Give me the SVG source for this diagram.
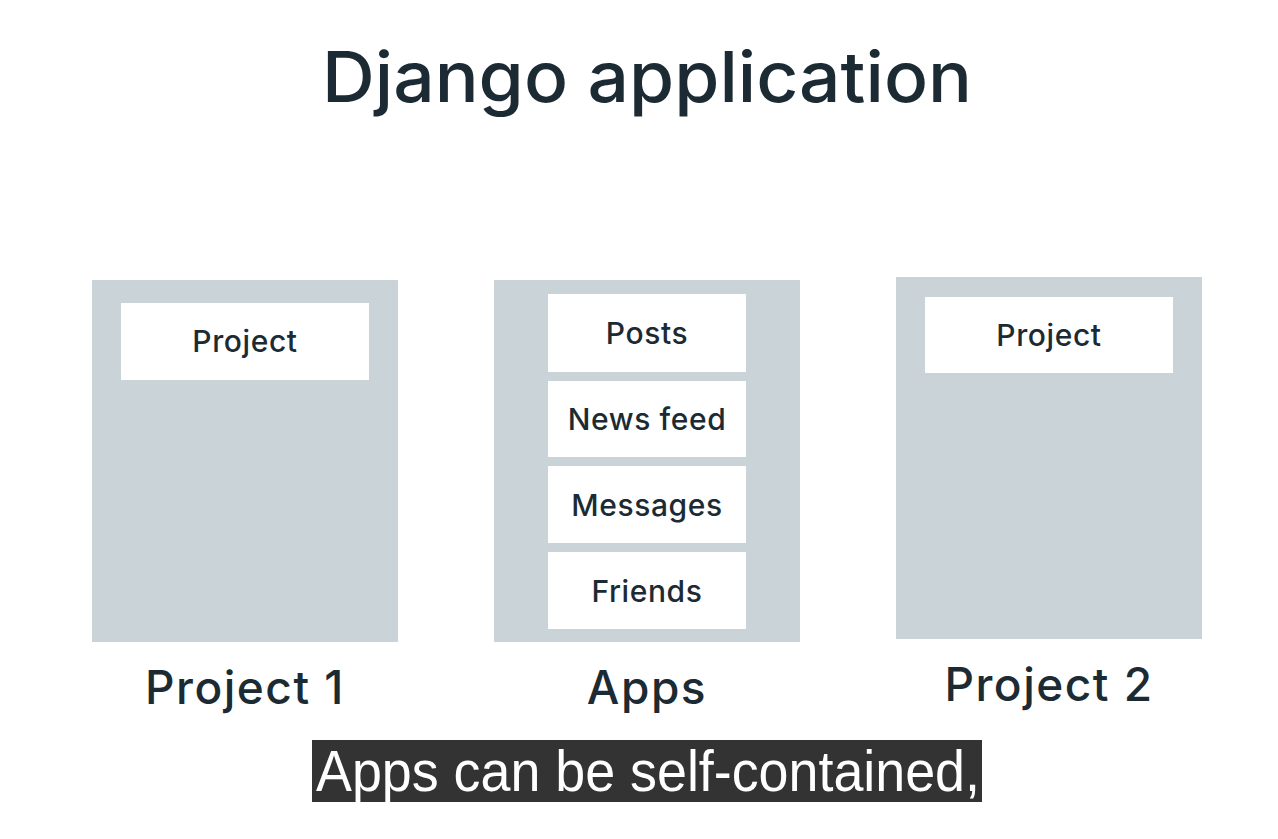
<svg xmlns="http://www.w3.org/2000/svg" width="1278" height="839" viewBox="0 0 1278 839">
<style>
.panel{fill:#c9d3d8}
.card{fill:#ffffff}
.t{font-family:Inter,"Noto Sans",sans-serif;fill:#1c2b33;text-anchor:middle}
.card-t{font-size:30px;font-weight:500;letter-spacing:0.6px}
.lbl{font-size:46px;font-weight:500;letter-spacing:1.5px}
.title{font-size:70px;font-weight:500}
.cap{font-family:"Liberation Sans",Arial,sans-serif;font-size:57px;fill:#ffffff;text-anchor:middle}
</style>
<rect width="1278" height="839" fill="#ffffff"/>
<text class="t title" x="647" y="102" textLength="650" lengthAdjust="spacingAndGlyphs">Django application</text>
<g id="project1">
<rect class="panel" x="92" y="280" width="306" height="362"/>
<rect class="card" x="121" y="303" width="248" height="77"/>
<text class="t card-t" x="245" y="352">Project</text>
<text class="t lbl" x="245" y="704">Project 1</text>
</g>
<g id="apps">
<rect class="panel" x="494" y="280" width="306" height="362"/>
<rect class="card" x="548" y="294" width="198" height="78"/>
<text class="t card-t" x="647" y="344">Posts</text>
<rect class="card" x="548" y="381" width="198" height="76"/>
<text class="t card-t" x="647" y="430">News feed</text>
<rect class="card" x="548" y="466" width="198" height="77"/>
<text class="t card-t" x="647" y="516">Messages</text>
<rect class="card" x="548" y="552" width="198" height="77"/>
<text class="t card-t" x="647" y="602">Friends</text>
<text class="t lbl" x="647" y="704">Apps</text>
</g>
<g id="project2">
<rect class="panel" x="896" y="277" width="306" height="362"/>
<rect class="card" x="925" y="297" width="248" height="76"/>
<text class="t card-t" x="1049" y="346">Project</text>
<text class="t lbl" x="1049" y="701">Project 2</text>
</g>
<g id="connectors"></g>
<g id="caption">
<rect x="312" y="740" width="670" height="62" fill="#333333"/>
<text class="cap" x="648" y="791" textLength="664" lengthAdjust="spacingAndGlyphs">Apps can be self-contained,</text>
</g>
</svg>
